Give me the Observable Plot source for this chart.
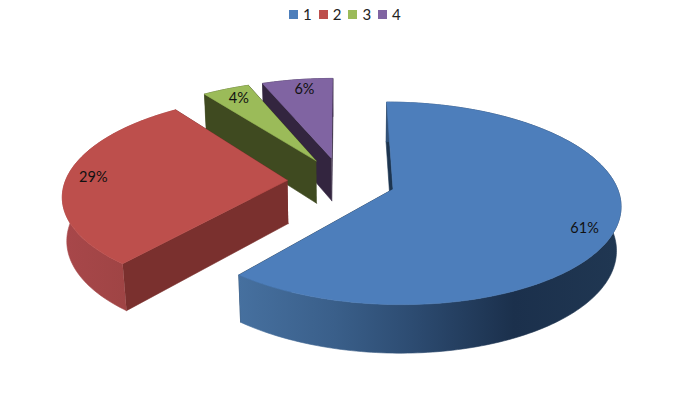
<!DOCTYPE html>
<html>
<head>
<meta charset="utf-8">
<script src="https://cdn.jsdelivr.net/npm/d3@7"></script>
<script src="https://cdn.jsdelivr.net/npm/@observablehq/plot@0.6"></script>
<style>
html,body{margin:0;padding:0;background:#fff}
#legend{height:30px;display:flex;align-items:center;padding:0 0 2px 289px;box-sizing:border-box;font:15px Lato,sans-serif;color:#222}
#legend span.item{display:flex;align-items:center;width:29.7px}
#legend i{display:block;width:9px;height:9px;margin-right:5px}
svg{display:block}
</style>
</head>
<body>
<div id="legend"></div>
<div id="chart"></div>
<script>
const categories = ["1", "2", "3", "4"];
const values = [61, 29, 4, 6];
const topColors = ["#4d7ebb", "#bd4f4c", "#9bbb59", "#8064a2"];
const sideColors = ["#1d3550", "#7a302e", "#3f4a20", "#33253f"];
const wallStops = [
  [["0%", "#46709f"], ["25%", "#3a5f8a"], ["45%", "#2d4c72"], ["72%", "#1b304c"], ["100%", "#203752"]],
  [["0%", "#a8474a"], ["100%", "#984240"]],
  [["0%", "#3f4a20"], ["100%", "#3f4a20"]],
  [["0%", "#33253f"], ["100%", "#33253f"]]
];
const labelNudge = [[5.3, 0.879], [0, 0.88], [0.5, 0.86], [1, 0.86]]; // degrees, radius

const explode = 0.244, persp = 0.139, depthZ = 0.016, scaleA = 222, scaleB = 97, thickness = 44 / scaleB;
const total = d3.sum(values);
const project = (X, Y, down) => {
  const w = 1 + persp * Y + (down ? depthZ : 0);
  return {x: X / w, y: (Y - (down ? thickness : 0)) / w};
};

let acc = 0;
const slices = values.map((v, i) => {
  const a = acc / total * 2 * Math.PI;
  acc += v;
  const b = acc / total * 2 * Math.PI;
  const m = (a + b) / 2;
  return {i, a, b, m, cx: explode * Math.sin(m), cy: explode * Math.cos(m)};
});

const polys = [];
function addPoly(key, color, pts) { pts.forEach(p => polys.push({...p, key, color})); }
[3, 2, 1, 0].forEach(i => {
  const s = slices[i];
  const n = Math.max(6, Math.ceil((s.b - s.a) / 0.02));
  const rim = d3.range(n + 1).map(k => s.a + (s.b - s.a) * k / n);
  const P = (t, down) => project(s.cx + Math.sin(t), s.cy + Math.cos(t), down);
  const C = down => project(s.cx, s.cy, down);
  addPoly(`${i}e`, sideColors[i], [C(false), P(s.b, false), P(s.b, true), C(true)]);
  addPoly(`${i}s`, sideColors[i], [C(false), P(s.a, false), P(s.a, true), C(true)]);
  addPoly(`${i}w`, `url(#wall${i})`, [...rim.map(t => P(t, false)), ...rim.slice().reverse().map(t => P(t, true))]);
  addPoly(`${i}t`, topColors[i], [C(false), ...rim.map(t => P(t, false))]);
});

const labels = slices.map(s => {
  const [deg, r] = labelNudge[s.i];
  const t = s.m + deg * Math.PI / 180;
  return {...project(s.cx + r * Math.sin(t), s.cy + r * Math.cos(t), false), text: values[s.i] + "%"};
});

const defs = () => {
  const svg = d3.create("svg:g");
  const d = svg.append("defs");
  wallStops.forEach((stops, i) => {
    const g = d.append("linearGradient").attr("id", `wall${i}`);
    stops.forEach(([o, c]) => g.append("stop").attr("offset", o).attr("stop-color", c));
  });
  return svg.node();
};

const originX = 341, originY = 150.5, svgH = 382;
const chart = Plot.plot({
  width: 681,
  height: svgH,
  margin: 0,
  x: {domain: [-originX / scaleA, (681 - originX) / scaleA], range: [0, 681], axis: null},
  y: {domain: [(originY - svgH) / scaleB, originY / scaleB], range: [svgH, 0], axis: null},
  color: {type: "identity"},
  marks: [
    defs,
    Plot.line(polys, {x: "x", y: "y", z: "key", fill: "color", stroke: "color", strokeWidth: 0.6, curve: "linear"}),
    Plot.text(labels, {x: "x", y: "y", text: "text", fontFamily: "Lato, sans-serif", fontSize: 14.5, fill: "#111"})
  ]
});
document.getElementById("chart").append(chart);

const lg = d3.select("#legend");
categories.forEach((c, i) => {
  const it = lg.append("span").attr("class", "item");
  it.append("i").style("background", topColors[i]);
  it.append("span").text(c);
});
</script>
</body>
</html>
